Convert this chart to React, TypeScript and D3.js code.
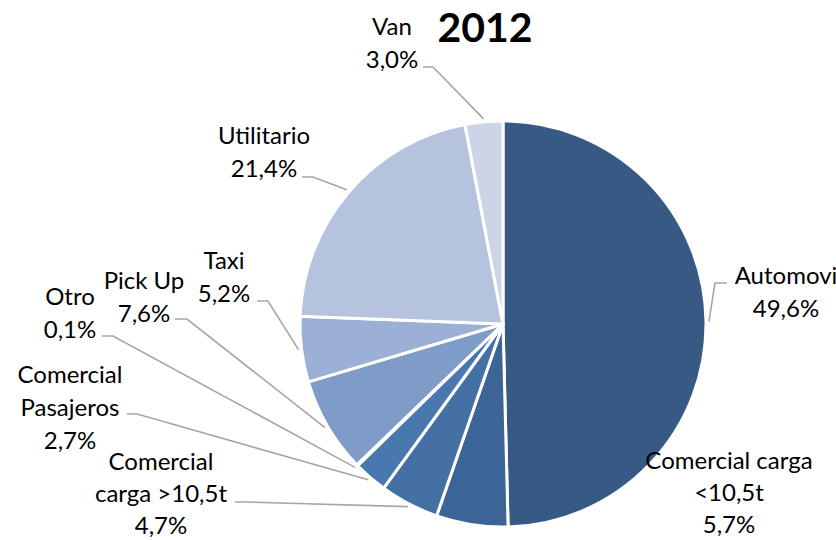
import React from "react";
import * as d3 from "d3";

const categories = [
  "Automovi",
  "Comercial carga <10,5t",
  "Comercial carga >10,5t",
  "Comercial Pasajeros",
  "Otro",
  "Pick Up",
  "Taxi",
  "Utilitario",
  "Van",
];
const values = [49.6, 5.7, 4.7, 2.7, 0.1, 7.6, 5.2, 21.4, 3.0];
const valueLabels = ["49,6%", "5,7%", "4,7%", "2,7%", "0,1%", "7,6%", "5,2%", "21,4%", "3,0%"];
const colors = [
  "#375a84",
  "#3d6497",
  "#4470a3",
  "#4878ae",
  "#5684bd",
  "#7f9bc8",
  "#9ab0d4",
  "#b5c3de",
  "#cbd5e7",
];
const title = "2012";

// label layout: text lines (category split + value), center x, first baseline, line height, leader start/knee
const labelLayout = [
  { lines: ["Automovi"], x: 786, y: 284, lh: 33, sx: 727, sy: 283, kx: 715, ky: 283 },
  { lines: ["Comercial carga", "<10,5t"], x: 729, y: 469, lh: 32, sx: null, sy: null, kx: null, ky: null },
  { lines: ["Comercial", "carga >10,5t"], x: 161, y: 470, lh: 32, sx: 235, sy: 502, kx: 246, ky: 502 },
  { lines: ["Comercial", "Pasajeros"], x: 70, y: 383, lh: 33, sx: 127, sy: 414, kx: 137, ky: 414 },
  { lines: ["Otro"], x: 70, y: 305, lh: 33, sx: 102, sy: 336, kx: 113, ky: 336 },
  { lines: ["Pick Up"], x: 144, y: 289, lh: 33, sx: 175, sy: 319, kx: 187, ky: 319 },
  { lines: ["Taxi"], x: 224, y: 269, lh: 33, sx: 257, sy: 301, kx: 268, ky: 301 },
  { lines: ["Utilitario"], x: 264, y: 144, lh: 33, sx: 302, sy: 177, kx: 313, ky: 177 },
  { lines: ["Van"], x: 392, y: 35, lh: 33, sx: 423, sy: 67, kx: 433, ky: 67 },
];

const W = 836;
const H = 540;
const cx = 503;
const cy = 324;
const R = 203;

export default function App() {
  const pie = d3
    .pie<number>()
    .sort(null)
    .value((d) => d)
    .startAngle(0)
    .endAngle(2 * Math.PI);
  const arcs = pie(values);
  const arc = d3.arc<d3.PieArcDatum<number>>().innerRadius(0).outerRadius(R);
  const edge = d3.arc<d3.PieArcDatum<number>>().innerRadius(R + 3).outerRadius(R + 3);

  return (
    <svg
      width={W}
      height={H}
      style={{ position: "absolute", left: 0, top: 0, background: "#fff" }}
      fontFamily="Lato, 'Open Sans', sans-serif"
    >
      <rect width={W} height={H} fill="#fff" />
      <g transform={`translate(${cx},${cy})`}>
        {arcs.map((a, i) => (
          <path key={categories[i]} d={arc(a) || ""} fill={colors[i]} stroke="#fff" strokeWidth={3} strokeLinejoin="round" />
        ))}
      </g>
      {arcs.map((a, i) => {
        const L = labelLayout[i];
        if (L.sx === null) return null;
        const [ex, ey] = edge.centroid(a);
        return (
          <polyline
            key={"l" + i}
            points={`${L.sx},${L.sy} ${L.kx},${L.ky} ${cx + ex},${cy + ey}`}
            fill="none"
            stroke="#a6a6a6"
            strokeWidth={1.6}
          />
        );
      })}
      {labelLayout.map((L, i) => {
        const lines = [...L.lines, valueLabels[i]];
        return (
          <text key={"t" + i} x={L.x} y={L.y} textAnchor="middle" fontSize={24} fill="#000">
            {lines.map((s, j) => (
              <tspan key={j} x={L.x} y={L.y + j * L.lh}>
                {s}
              </tspan>
            ))}
          </text>
        );
      })}
      <text x={485} y={42} textAnchor="middle" fontSize={41} fontWeight="bold" fill="#000">
        {title}
      </text>
    </svg>
  );
}
